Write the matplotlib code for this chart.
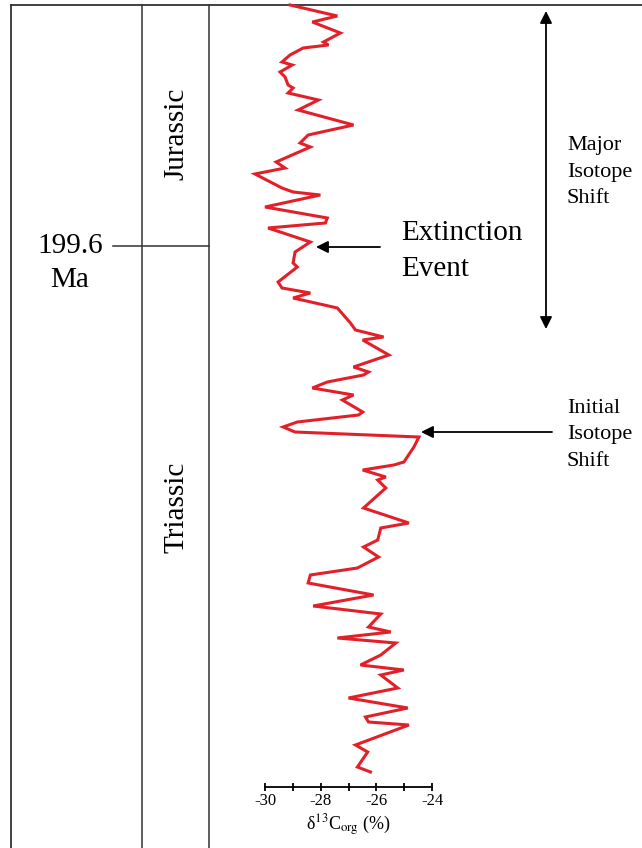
import matplotlib.pyplot as plt
from matplotlib.ticker import MultipleLocator

plt.rcParams['font.family'] = ['Liberation Serif', 'DejaVu Serif']
plt.rcParams['mathtext.fontset'] = 'stix'

# Daten: delta13C_org (permil) gegen Profil-Niveau (von oben gemessen, Bildeinheiten)
level = [5, 16, 22, 33, 42, 45, 48, 55, 62, 65, 72, 77, 85, 88, 93, 100, 110,
         125, 135, 143, 147, 162, 168, 174, 188, 192, 195, 207, 218, 223, 228,
         242, 252, 263, 267, 282, 288, 293, 298, 308, 323, 330, 337, 340, 355,
         367, 372, 375, 382, 388, 395, 400, 412, 415, 422, 427, 432, 437, 447,
         462, 465, 470, 477, 480, 488, 508, 523, 528, 540, 547, 557, 568, 575,
         583, 595, 606, 614, 627, 632, 638, 643, 655, 665, 670, 675, 688, 698,
         708, 717, 722, 725, 745, 752, 767, 772]
d13c = [-29.10, -27.40, -28.30, -27.29, -27.90, -27.72, -28.63, -29.10, -29.39,
        -29.02, -29.46, -29.28, -29.17, -28.99, -29.17, -28.08, -28.81, -26.82,
        -28.45, -28.74, -28.37, -29.60, -29.28, -30.36, -29.39, -28.99, -28.01,
        -30.00, -27.76, -27.83, -29.89, -28.37, -28.92, -28.99, -28.84, -29.53,
        -29.39, -28.37, -28.99, -27.40, -26.93, -26.75, -25.74, -26.49, -25.55,
        -26.82, -26.28, -26.46, -27.76, -28.30, -26.82, -27.22, -26.49, -26.64,
        -28.84, -29.35, -28.92, -24.47, -24.65, -25.01, -25.37, -26.49, -25.66,
        -25.95, -25.66, -26.46, -24.83, -25.84, -25.95, -26.46, -25.92, -26.68,
        -28.37, -28.45, -26.10, -28.27, -25.84, -26.28, -25.48, -27.40, -25.30,
        -25.84, -26.57, -25.01, -25.84, -25.23, -27.00, -24.87, -26.39, -26.28,
        -24.83, -26.75, -26.31, -26.68, -26.21]

x_ticks = [-30, -28, -26, -24]
x_tick_labels = ['-30', '-28', '-26', '-24']

W, H = 642, 848
fig = plt.figure(figsize=(W / 100, H / 100), dpi=100)

# Hintergrund / Rahmen in Pixelkoordinaten
bg = fig.add_axes([0, 0, 1, 1])
bg.set_xlim(0, W)
bg.set_ylim(H, 0)
bg.axis('off')
lc = '#333333'
bg.plot([11, W], [5, 5], color=lc, lw=1.3)
bg.plot([11, 11], [5, H], color=lc, lw=1.3)
bg.plot([142, 142], [5, H], color=lc, lw=1.1)
bg.plot([209, 209], [5, H], color=lc, lw=1.1)
bg.plot([113, 209], [246, 246], color=lc, lw=1.1)

bg.text(176, 134, 'Jurassic', rotation=90, ha='center', va='center', fontsize=21)
bg.text(176, 507, 'Triassic', rotation=90, ha='center', va='center', fontsize=21)
bg.text(70, 246, '199.6', ha='center', va='center', fontsize=21)
bg.text(70, 280, 'Ma', ha='center', va='center', fontsize=21)

bg.text(401, 251, 'Extinction\nEvent', ha='left', va='center', fontsize=21,
        linespacing=1.45)
bg.annotate('', xy=(316, 247), xytext=(380, 247),
            arrowprops=dict(arrowstyle='-|>', color='black', lw=1.3,
                            mutation_scale=18, shrinkA=0, shrinkB=0))

bg.text(567, 172, 'Major\nIsotope\nShift', ha='left', va='center', fontsize=16,
        linespacing=1.55)
bg.annotate('', xy=(546, 11), xytext=(546, 329),
            arrowprops=dict(arrowstyle='<|-|>', color='black', lw=1.3,
                            mutation_scale=18, shrinkA=0, shrinkB=0))

bg.text(567, 435, 'Initial\nIsotope\nShift', ha='left', va='center', fontsize=16,
        linespacing=1.55)
bg.annotate('', xy=(421, 432), xytext=(552, 432),
            arrowprops=dict(arrowstyle='-|>', color='black', lw=1.3,
                            mutation_scale=18, shrinkA=0, shrinkB=0))

# Kurve
ax = fig.add_axes([265 / W, (H - 787) / H, 167 / W, (787 - 5) / H])
ax.patch.set_alpha(0)
ax.plot(d13c, level, color='#e2202a', lw=2.2, clip_on=False, solid_joinstyle='miter')
ax.set_xlim(-30, -24)
ax.set_ylim(787, 5)
for s in ['top', 'left', 'right']:
    ax.spines[s].set_visible(False)
ax.spines['bottom'].set_linewidth(1.3)
ax.set_yticks([])
ax.set_xticks(x_ticks)
ax.set_xticklabels(x_tick_labels, fontsize=12)
ax.xaxis.set_minor_locator(MultipleLocator(1))
ax.tick_params(axis='x', which='both', direction='inout', length=6, width=1.3, pad=1)
ax.set_xlabel(r'δ$^{13}$C$_{\mathrm{org}}$ (%)', fontsize=13, labelpad=3)

plt.savefig('out.png', dpi=100)
